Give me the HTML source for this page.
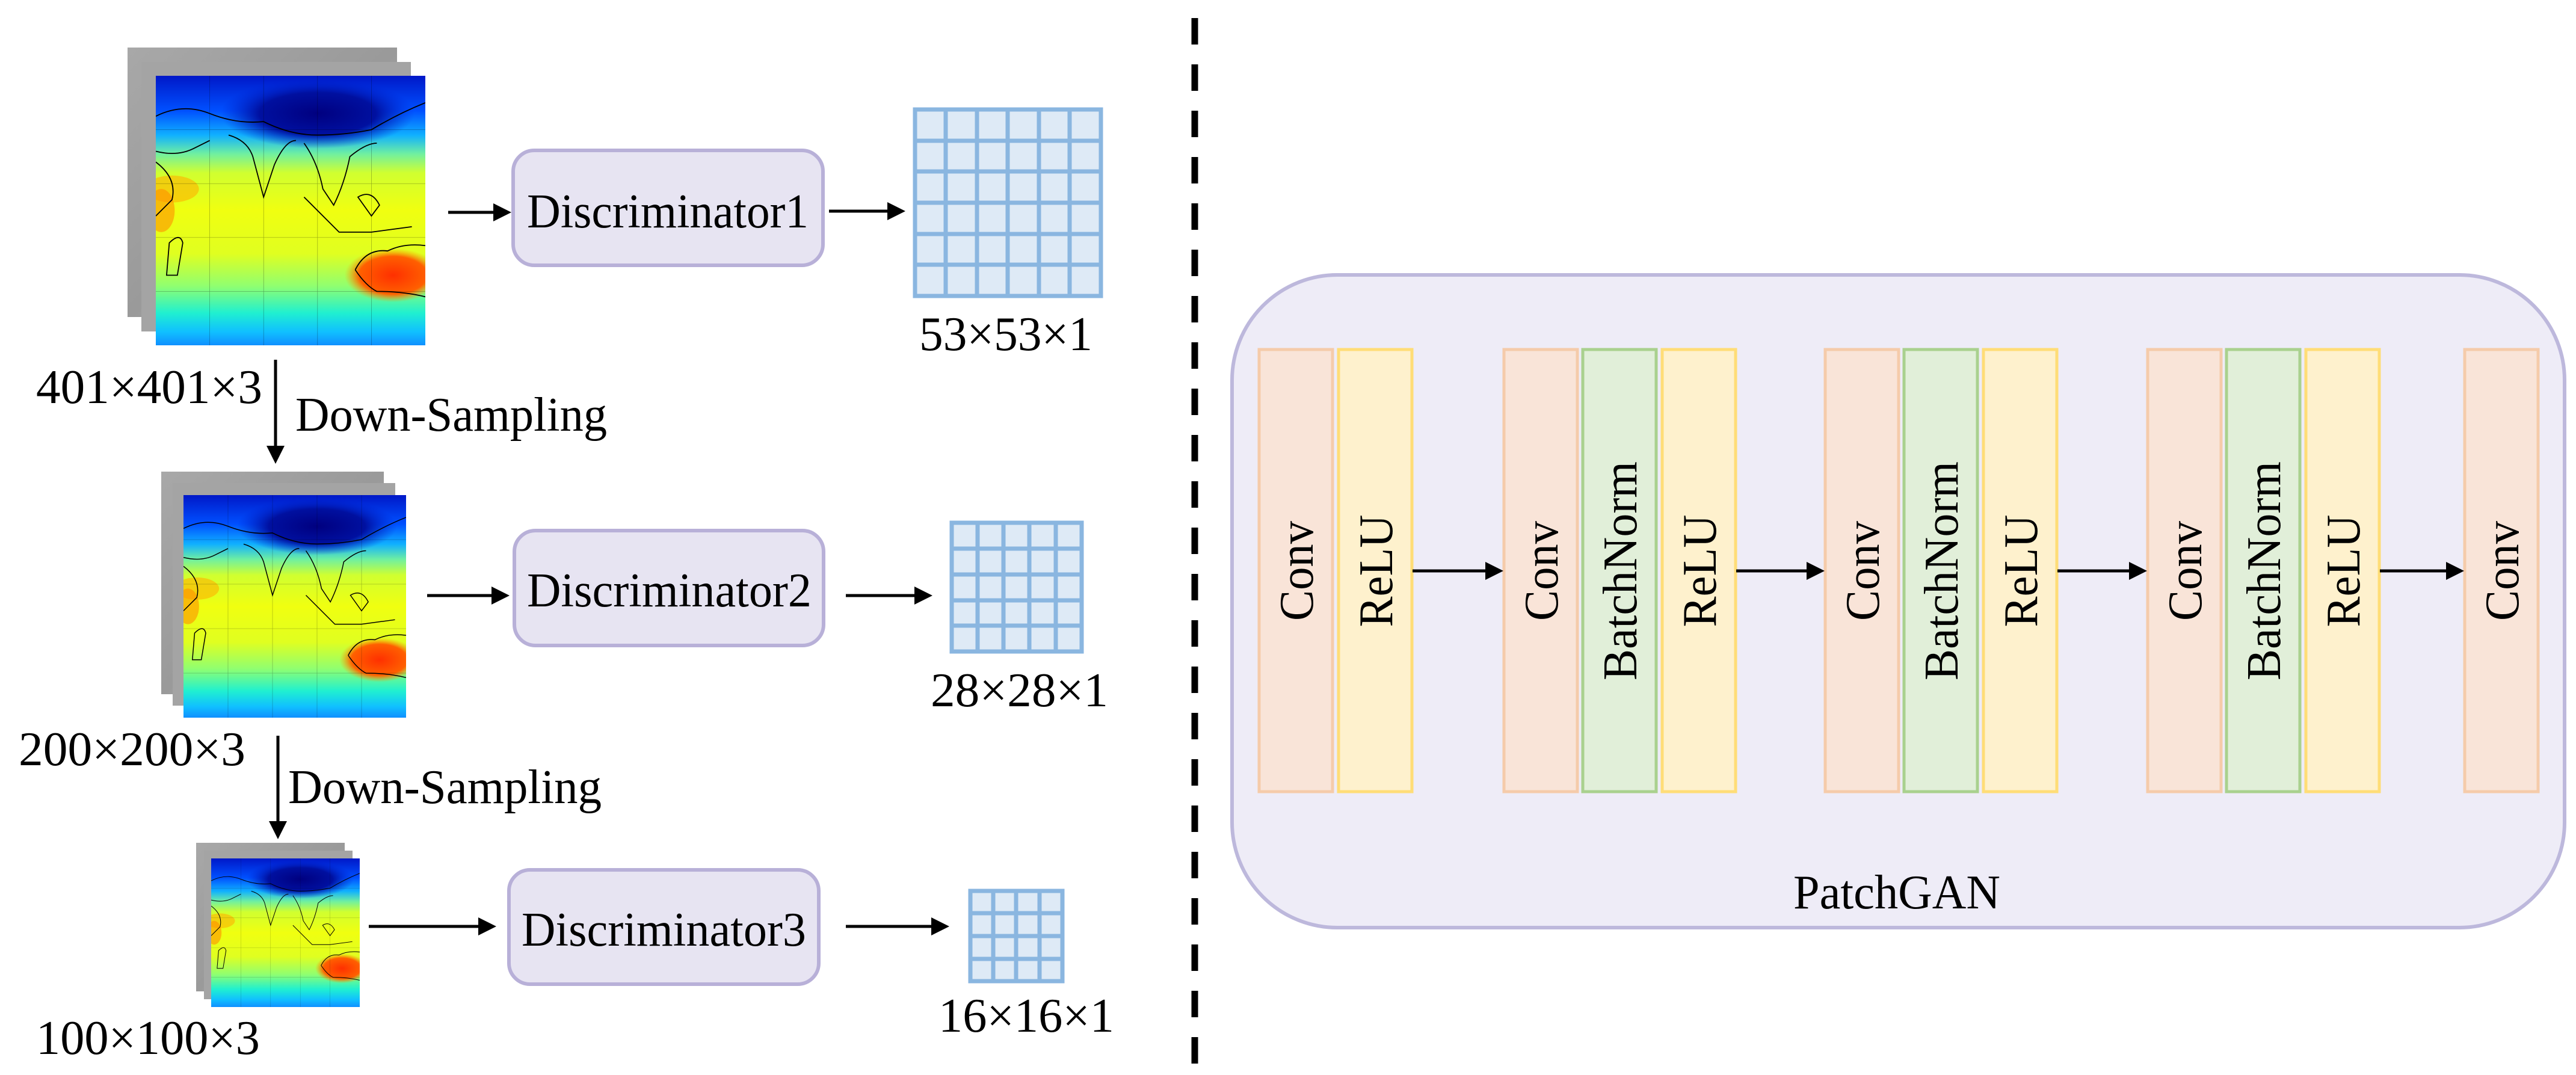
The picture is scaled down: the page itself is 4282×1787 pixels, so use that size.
<!DOCTYPE html>
<html><head><meta charset="utf-8"><style>
html,body{margin:0;padding:0;background:#fff;}
svg{display:block;}
text{font-family:"Liberation Serif",serif;fill:#000;}
</style></head><body>
<svg width="4282" height="1787" viewBox="0 0 4282 1787" xmlns="http://www.w3.org/2000/svg">
<defs>
  <linearGradient id="mg" x1="0" y1="0" x2="0" y2="1">
    <stop offset="0" stop-color="#0018c8"/>
    <stop offset="0.13" stop-color="#0050ff"/>
    <stop offset="0.22" stop-color="#10b0ff"/>
    <stop offset="0.29" stop-color="#70f0a0"/>
    <stop offset="0.36" stop-color="#d0ff30"/>
    <stop offset="0.5" stop-color="#f0ff10"/>
    <stop offset="0.66" stop-color="#e0ff20"/>
    <stop offset="0.78" stop-color="#90ff70"/>
    <stop offset="0.88" stop-color="#20f0d0"/>
    <stop offset="0.95" stop-color="#10c0ff"/>
    <stop offset="1" stop-color="#1090ff"/>
  </linearGradient>
  <radialGradient id="aus" cx="0.5" cy="0.5" r="0.5">
    <stop offset="0" stop-color="#ff3000"/>
    <stop offset="0.7" stop-color="#ff6000"/>
    <stop offset="1" stop-color="#ffa000" stop-opacity="0"/>
  </radialGradient>
  <radialGradient id="tib" cx="0.5" cy="0.5" r="0.5">
    <stop offset="0" stop-color="#000080"/>
    <stop offset="0.6" stop-color="#0010a0"/>
    <stop offset="1" stop-color="#0020d0" stop-opacity="0"/>
  </radialGradient>
  <linearGradient id="gray" x1="0" y1="0" x2="1" y2="1">
    <stop offset="0" stop-color="#a8a8a8"/>
    <stop offset="0.5" stop-color="#9a9a9a"/>
    <stop offset="1" stop-color="#b4b4b4"/>
  </linearGradient>
  <symbol id="map" viewBox="0 0 100 100" preserveAspectRatio="none">
    <rect x="0" y="0" width="100" height="100" fill="url(#mg)"/>
    <ellipse cx="60" cy="14" rx="36" ry="13" fill="url(#tib)"/>
    <ellipse cx="88" cy="74" rx="18" ry="10" fill="url(#aus)"/>
    <ellipse cx="6" cy="42" rx="10" ry="5" fill="#ffb000" opacity="0.6"/>
    <ellipse cx="2" cy="50" rx="5" ry="8" fill="#ff9000" opacity="0.6"/>
    <g fill="none" stroke="#000" stroke-width="0.4">
      <path d="M0 15 Q10 10 20 14 T40 17 Q50 22 60 22 T80 20 Q90 14 100 10"/>
      <path d="M27 22 Q34 24 36 30 L40 45 L44 33 Q48 24 52 24"/>
      <path d="M55 25 Q60 32 62 42 L66 48 Q70 40 72 30 Q78 25 82 25"/>
      <path d="M55 45 Q62 52 68 58 L80 58 L95 56"/>
      <path d="M75 45 Q80 42 83 48 L80 52 Z"/>
      <path d="M74 72 Q78 64 86 65 Q92 62 100 63 M74 72 Q78 78 82 80 Q92 80 100 82"/>
      <path d="M0 28 Q8 30 14 27 L20 24 M0 32 Q8 38 6 46 L0 52"/>
      <path d="M5 62 Q9 58 10 62 L8 74 L4 74 Z"/>
    </g>
    <g stroke="#000" stroke-width="0.15" opacity="0.35">
      <line x1="20" y1="0" x2="20" y2="100"/><line x1="40" y1="0" x2="40" y2="100"/>
      <line x1="60" y1="0" x2="60" y2="100"/><line x1="80" y1="0" x2="80" y2="100"/>
      <line x1="0" y1="20" x2="100" y2="20"/><line x1="0" y1="40" x2="100" y2="40"/>
      <line x1="0" y1="60" x2="100" y2="60"/><line x1="0" y1="80" x2="100" y2="80"/>
    </g>
  </symbol>
  <marker id="ah" markerWidth="6" markerHeight="6" refX="5" refY="3" orient="auto" markerUnits="strokeWidth">
    <path d="M0,0 L6,3 L0,6 Z" fill="#000"/>
  </marker>
</defs>

<rect x="212" y="79" width="448" height="448" fill="url(#gray)"/>
<rect x="235" y="103" width="448" height="448" fill="#a4a4a4"/>
<use href="#map" x="259" y="126" width="448" height="448"/>
<rect x="268" y="784" width="370" height="370" fill="url(#gray)"/>
<rect x="287" y="803" width="370" height="370" fill="#a4a4a4"/>
<use href="#map" x="305" y="823" width="370" height="370"/>
<rect x="326" y="1401" width="247" height="247" fill="url(#gray)"/>
<rect x="339" y="1414" width="247" height="247" fill="#a4a4a4"/>
<use href="#map" x="351" y="1427" width="247" height="247"/>

<g font-size="80" lengthAdjust="spacingAndGlyphs">
<text x="60" y="670" textLength="376" lengthAdjust="spacingAndGlyphs">401×401×3</text>
<text x="31" y="1272" textLength="377" lengthAdjust="spacingAndGlyphs">200×200×3</text>
<text x="60" y="1752" textLength="372" lengthAdjust="spacingAndGlyphs">100×100×3</text>
<text x="491" y="716" textLength="518" lengthAdjust="spacingAndGlyphs">Down-Sampling</text>
<text x="479" y="1335" textLength="521" lengthAdjust="spacingAndGlyphs">Down-Sampling</text>
</g>

<line x1="458" y1="598" x2="458" y2="766" stroke="#000" stroke-width="5" marker-end="url(#ah)"/>
<line x1="462" y1="1223" x2="462" y2="1390" stroke="#000" stroke-width="5" marker-end="url(#ah)"/>

<rect x="853" y="250" width="515" height="191" rx="35" fill="#e7e4f2" stroke="#b8b0d8" stroke-width="6"/>
<text x="876" y="378" font-size="80" textLength="468" lengthAdjust="spacingAndGlyphs">Discriminator1</text>
<rect x="855" y="882" width="514" height="191" rx="35" fill="#e7e4f2" stroke="#b8b0d8" stroke-width="6"/>
<text x="876" y="1008" font-size="80" textLength="473" lengthAdjust="spacingAndGlyphs">Discriminator2</text>
<rect x="846" y="1446" width="515" height="190" rx="35" fill="#e7e4f2" stroke="#b8b0d8" stroke-width="6"/>
<text x="867" y="1572" font-size="80" textLength="473" lengthAdjust="spacingAndGlyphs">Discriminator3</text>

<g stroke="#000" stroke-width="5">
<line x1="745" y1="353" x2="845" y2="353" marker-end="url(#ah)"/>
<line x1="1378" y1="351" x2="1500" y2="351" marker-end="url(#ah)"/>
<line x1="710" y1="990" x2="842" y2="990" marker-end="url(#ah)"/>
<line x1="1406" y1="990" x2="1545" y2="990" marker-end="url(#ah)"/>
<line x1="613" y1="1540" x2="820" y2="1540" marker-end="url(#ah)"/>
<line x1="1406" y1="1540" x2="1573" y2="1540" marker-end="url(#ah)"/>
</g>

<g fill="#deeaf6" stroke="#8ab6e0" stroke-width="7">
<rect x="1521" y="182" width="309" height="310"/>
<path d="M1572 182V492M1624 182V492M1675 182V492M1727 182V492M1778 182V492M1521 234H1830M1521 285H1830M1521 337H1830M1521 389H1830M1521 440H1830" fill="none"/>
<rect x="1582" y="869" width="216" height="214"/>
<path d="M1625 869V1083M1668 869V1083M1711 869V1083M1755 869V1083M1582 912H1798M1582 955H1798M1582 998H1798M1582 1040H1798" fill="none"/>
<rect x="1613" y="1481" width="153" height="150"/>
<path d="M1651 1481V1631M1689 1481V1631M1728 1481V1631M1613 1518H1766M1613 1556H1766M1613 1594H1766" fill="none"/>
</g>
<text x="1528" y="582" font-size="80" textLength="288" lengthAdjust="spacingAndGlyphs">53×53×1</text>
<text x="1547" y="1174" font-size="80" textLength="295" lengthAdjust="spacingAndGlyphs">28×28×1</text>
<text x="1560" y="1715" font-size="80" textLength="292" lengthAdjust="spacingAndGlyphs">16×16×1</text>

<line x1="1986" y1="30" x2="1986" y2="1787" stroke="#000" stroke-width="11" stroke-dasharray="44 33"/>

<rect x="2048" y="457" width="2215" height="1085" rx="175" fill="#eeecf7" stroke="#bdb8dc" stroke-width="6"/>
<text x="2981" y="1510" font-size="80" textLength="344" lengthAdjust="spacingAndGlyphs">PatchGAN</text>

<g stroke-width="5">
<rect x="2093" y="581" width="122" height="735" fill="#f9e4d8" stroke="#f5cbaa"/>
<rect x="2225" y="581" width="122" height="735" fill="#fef1cd" stroke="#ffdd77"/>
<rect x="2500" y="581" width="122" height="735" fill="#f9e4d8" stroke="#f5cbaa"/>
<rect x="2631" y="581" width="122" height="735" fill="#e1efd9" stroke="#a9d18e"/>
<rect x="2763" y="581" width="122" height="735" fill="#fef1cd" stroke="#ffdd77"/>
<rect x="3034" y="581" width="122" height="735" fill="#f9e4d8" stroke="#f5cbaa"/>
<rect x="3165" y="581" width="122" height="735" fill="#e1efd9" stroke="#a9d18e"/>
<rect x="3297" y="581" width="122" height="735" fill="#fef1cd" stroke="#ffdd77"/>
<rect x="3570" y="581" width="122" height="735" fill="#f9e4d8" stroke="#f5cbaa"/>
<rect x="3701" y="581" width="122" height="735" fill="#e1efd9" stroke="#a9d18e"/>
<rect x="3833" y="581" width="122" height="735" fill="#fef1cd" stroke="#ffdd77"/>
<rect x="4097" y="581" width="122" height="735" fill="#f9e4d8" stroke="#f5cbaa"/>
</g>
<g stroke="#000" stroke-width="5">
<line x1="2348" y1="949" x2="2494" y2="949" marker-end="url(#ah)"/>
<line x1="2886" y1="949" x2="3028" y2="949" marker-end="url(#ah)"/>
<line x1="3420" y1="949" x2="3564" y2="949" marker-end="url(#ah)"/>
<line x1="3956" y1="949" x2="4091" y2="949" marker-end="url(#ah)"/>
</g>
<g font-size="80" text-anchor="middle" dominant-baseline="central">
<text transform="translate(2156,949) rotate(-90)" textLength="166" lengthAdjust="spacingAndGlyphs">Conv</text>
<text transform="translate(2288,949) rotate(-90)" textLength="187" lengthAdjust="spacingAndGlyphs">ReLU</text>
<text transform="translate(2563,949) rotate(-90)" textLength="166" lengthAdjust="spacingAndGlyphs">Conv</text>
<text transform="translate(2694,949) rotate(-90)" textLength="364" lengthAdjust="spacingAndGlyphs">BatchNorm</text>
<text transform="translate(2826,949) rotate(-90)" textLength="187" lengthAdjust="spacingAndGlyphs">ReLU</text>
<text transform="translate(3097,949) rotate(-90)" textLength="166" lengthAdjust="spacingAndGlyphs">Conv</text>
<text transform="translate(3228,949) rotate(-90)" textLength="364" lengthAdjust="spacingAndGlyphs">BatchNorm</text>
<text transform="translate(3360,949) rotate(-90)" textLength="187" lengthAdjust="spacingAndGlyphs">ReLU</text>
<text transform="translate(3633,949) rotate(-90)" textLength="166" lengthAdjust="spacingAndGlyphs">Conv</text>
<text transform="translate(3764,949) rotate(-90)" textLength="364" lengthAdjust="spacingAndGlyphs">BatchNorm</text>
<text transform="translate(3896,949) rotate(-90)" textLength="187" lengthAdjust="spacingAndGlyphs">ReLU</text>
<text transform="translate(4160,949) rotate(-90)" textLength="166" lengthAdjust="spacingAndGlyphs">Conv</text>
</g>
</svg>
</body></html>
